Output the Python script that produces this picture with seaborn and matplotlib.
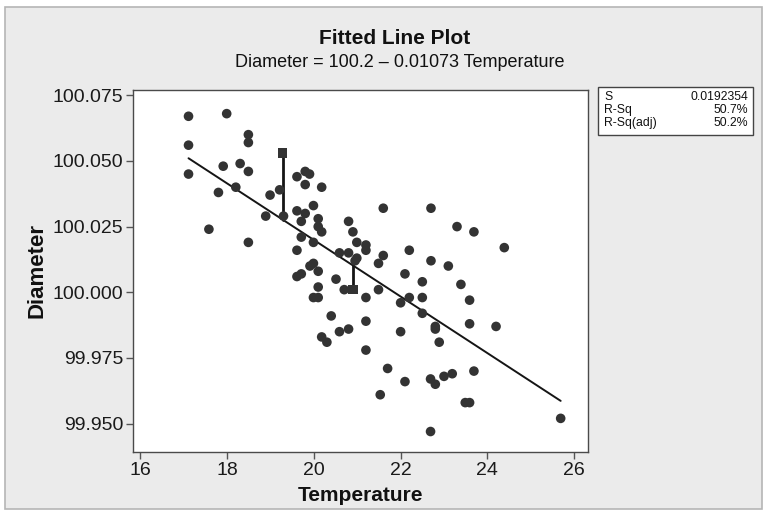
import numpy as np
import pandas as pd
import matplotlib
matplotlib.use("Agg")
import matplotlib.pyplot as plt
import seaborn as sns
from matplotlib.patches import Rectangle

temperature = [
    17.11, 17.99, 17.11, 18.49, 18.49, 17.11, 17.91, 18.30, 18.49, 18.20,
    17.80, 19.21, 18.99, 18.89, 19.30, 17.58, 18.49, 19.61, 19.80, 19.90,
    19.80, 20.18, 19.61, 19.80, 19.71, 19.99, 20.10, 20.10, 20.18, 19.71,
    19.99, 19.61, 20.80, 20.90, 20.99, 21.20, 21.20, 20.59, 20.80, 20.99,
    20.95, 19.99, 19.91, 20.10, 19.61, 19.71, 20.51, 20.10, 20.70, 21.49,
    21.20, 19.99, 20.10, 20.40, 21.20, 20.59, 20.80, 20.18, 20.30, 21.20,
    21.60, 22.70, 23.30, 23.69, 24.39, 21.60, 21.49, 22.20, 22.70, 23.10,
    22.10, 22.50, 23.39, 22.20, 22.50, 22.00, 23.59, 22.50, 23.59, 24.20,
    22.00, 22.80, 22.80, 22.89, 21.70, 21.53, 22.10, 22.69, 22.80, 23.00,
    23.19, 23.69, 23.49, 23.59, 22.69, 25.69,
]
diameter = [
    100.067, 100.068, 100.056, 100.060, 100.057, 100.045, 100.048, 100.049, 100.046, 100.040,
    100.038, 100.039, 100.037, 100.029, 100.029, 100.024, 100.019, 100.044, 100.046, 100.045,
    100.041, 100.040, 100.031, 100.030, 100.027, 100.033, 100.028, 100.025, 100.023, 100.021,
    100.019, 100.016, 100.027, 100.023, 100.019, 100.018, 100.016, 100.015, 100.015, 100.013,
    100.012, 100.011, 100.010, 100.008, 100.006, 100.007, 100.005, 100.002, 100.001, 100.001,
    99.998, 99.998, 99.998, 99.991, 99.989, 99.985, 99.986, 99.983, 99.981, 99.978,
    100.032, 100.032, 100.025, 100.023, 100.017, 100.014, 100.011, 100.016, 100.012, 100.010,
    100.007, 100.004, 100.003, 99.998, 99.998, 99.996, 99.997, 99.992, 99.988, 99.987,
    99.985, 99.987, 99.986, 99.981, 99.971, 99.961, 99.966, 99.967, 99.965, 99.968,
    99.969, 99.970, 99.958, 99.958, 99.947, 99.952,
]
# highlighted points (drawn as squares with residual segment)
resid_temperature = [19.28, 20.90]
resid_diameter = [100.053, 100.001]

x_ticks = [16, 18, 20, 22, 24, 26]
y_ticks = [99.950, 99.975, 100.000, 100.025, 100.050, 100.075]
title = "Fitted Line Plot"
subtitle = "Diameter = 100.2 \u2013 0.01073 Temperature"
stats_labels = ["S", "R-Sq", "R-Sq(adj)"]
stats_values = ["0.0192354", "50.7%", "50.2%"]

sns.set_theme(style="white")
plt.rcParams["font.family"] = ["Liberation Sans", "DejaVu Sans"]

W, H = 767, 513
fig = plt.figure(figsize=(W / 100, H / 100), dpi=100, facecolor="white")
# gray panel with frame (behind everything)
fig.patches.append(Rectangle((5 / W, 4 / H), (762 - 5) / W, (506 - 4) / H,
                             transform=fig.transFigure, facecolor="#ebebeb",
                             edgecolor="#b5b5b5", lw=1.2, zorder=-10))

ax = fig.add_axes([133 / W, 1 - 452 / H, (588 - 133) / W, (452 - 90) / H])
ax.set_facecolor("white")
ax.set_zorder(1)

df = pd.DataFrame({"Temperature": temperature + resid_temperature,
                   "Diameter": diameter + resid_diameter})

sns.regplot(data=df, x="Temperature", y="Diameter", scatter=False, ci=None,
            line_kws=dict(color="#151515", lw=1.4, zorder=2), ax=ax)
sns.scatterplot(x=temperature, y=diameter, ax=ax, color="#333333", s=48,
                edgecolor="none", zorder=3, legend=False)
sns.scatterplot(x=resid_temperature, y=resid_diameter, ax=ax, marker="s",
                color="#333333", s=45, edgecolor="none", zorder=3, legend=False)

slope, intercept = np.polyfit(df["Temperature"], df["Diameter"], 1)
for t, d in zip(resid_temperature, resid_diameter):
    ax.plot([t, t], [d, intercept + slope * t], color="#151515", lw=2.0, zorder=2)

ax.set_xlim(15.83, 26.32)
ax.set_ylim(99.9392, 100.0770)
ax.set_xticks(x_ticks)
ax.set_yticks(y_ticks)
ax.set_xticklabels([str(v) for v in x_ticks])
ax.set_yticklabels([f"{v:.3f}" for v in y_ticks])
ax.tick_params(direction="out", length=5, width=1, color="#555555",
               labelsize=14, pad=2, labelcolor="#1a1a1a")
ax.tick_params(axis="x", bottom=True)
ax.tick_params(axis="y", left=True)
for s in ax.spines.values():
    s.set_color("#4a4a4a")
    s.set_linewidth(1.0)

ax.set_xlabel("Temperature", fontsize=15, fontweight="bold", color="#111111", labelpad=5)
ax.set_ylabel("Diameter", fontsize=16, fontweight="bold", color="#111111", labelpad=4)

fig.text(395 / W, 1 - 38 / H, title, ha="center", va="center", fontsize=15,
         fontweight="bold", color="#111111")
fig.text(400 / W, 1 - 63 / H, subtitle, ha="center", va="center", fontsize=13,
         color="#111111")

# statistics box
fig.patches.append(Rectangle((598 / W, 1 - 135 / H), (753 - 598) / W, (135 - 87) / H,
                             transform=fig.transFigure, facecolor="white",
                             edgecolor="#444444", lw=1.0, zorder=1))
for i, (lab, val) in enumerate(zip(stats_labels, stats_values)):
    yy = 1 - (97 + 13 * i) / H
    fig.text(604 / W, yy, lab, ha="left", va="center", fontsize=8.8, color="#111111")
    fig.text(748 / W, yy, val, ha="right", va="center", fontsize=8.8, color="#111111")

fig.savefig("out.png", dpi=100, facecolor=fig.get_facecolor())
